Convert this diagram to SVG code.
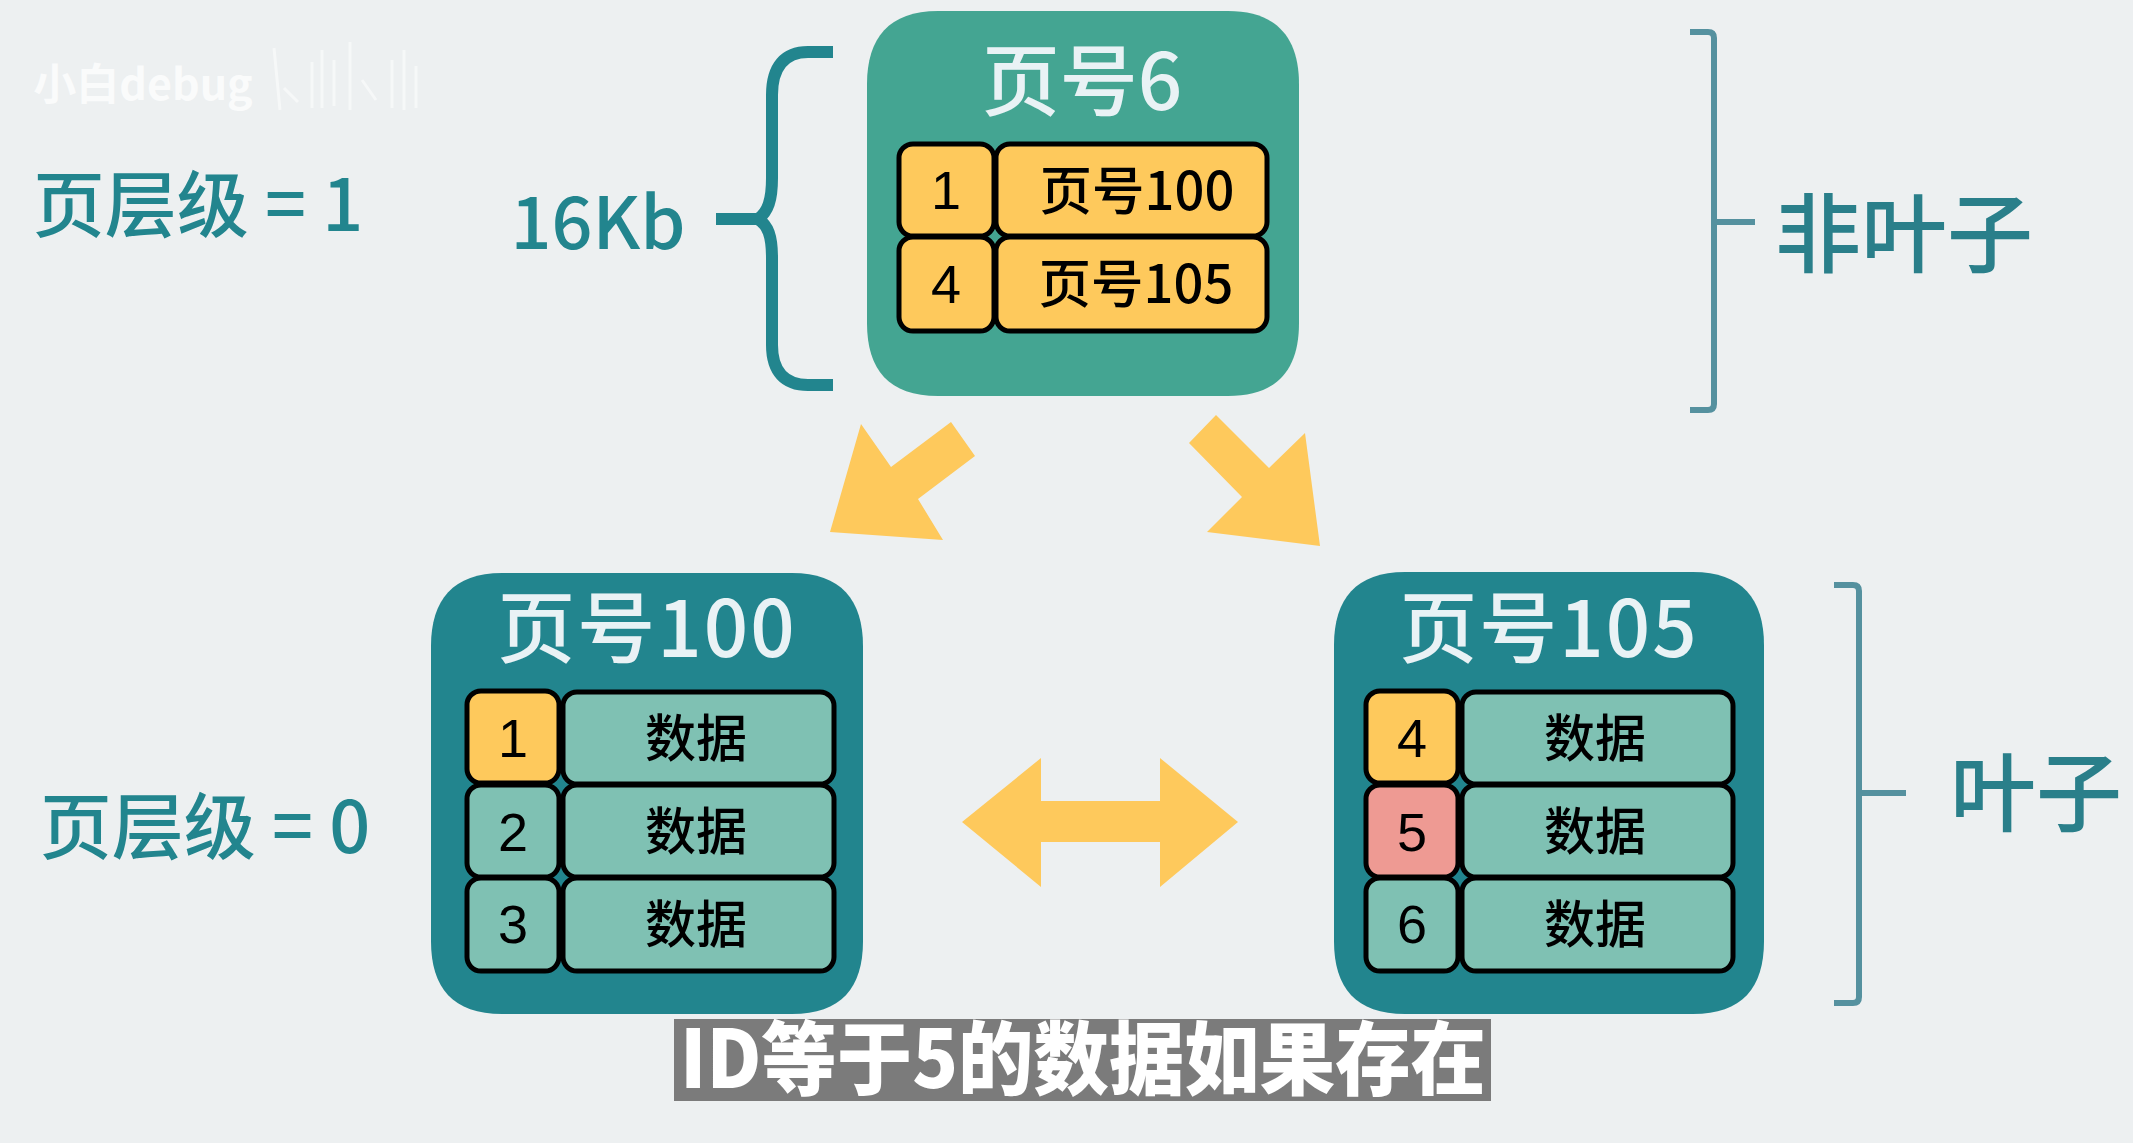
<svg xmlns="http://www.w3.org/2000/svg" width="2133" height="1143" viewBox="0 0 2133 1143">
<defs><style>
text{font-family:"Noto Sans CJK SC","Noto Sans",sans-serif;text-anchor:middle}
.title{font-size:78px;font-weight:500;fill:#e9f2f5}
.side{font-size:72px;font-weight:500;fill:#22858e}
.cell{stroke:#000;stroke-width:5}
.y{fill:#fec95c}.g{fill:#7fc1b3}.r{fill:#ee9a93}
.num{font-family:"Liberation Sans",Arial,sans-serif;font-size:54px;fill:#000}
.lab{font-size:52.5px;font-weight:500;fill:#000}
.data{font-size:51px;font-weight:500;fill:#000}
.arrow{fill:#fec95c}
.brace{fill:none;stroke:#22858e;stroke-width:12}
.bracket{fill:none;stroke:#55919f;stroke-width:6}
.label2{font-weight:500;fill:#2a7f8a}
</style></defs>
<rect width="2133" height="1143" fill="#edf0f1"/>
<g id="watermark">
<text x="143" y="100" font-size="43" font-weight="700" fill="#fff" fill-opacity="0.75">小白debug</text>
<path d="M274 48l6 62M284 88l14 14M312 62v46M322 50v58M334 60v46M350 42v68M362 80l14 20M392 60v48M404 50v60M416 66v42" fill="none" stroke="#fff" stroke-width="3" stroke-opacity="0.5"/>
</g>
<g id="level-labels">
<text class="side" x="198" y="231">页层级 = 1</text>
<text class="side" x="205" y="853">页层级 = 0</text>
<text class="side" x="598" y="249">16Kb</text>
</g>
<g id="connectors">
<path class="brace" d="M833 52H808C785 52 772 66 772 95V178C772 200 768 212 758 219H716M758 219C768 225 772 236 772 258V345C772 372 785 385 808 385H833"/>
<path class="bracket" d="M1690 32H1708Q1714 32 1714 38V404Q1714 410 1708 410H1690M1714 222H1755"/>
<path class="bracket" d="M1834 585H1853Q1859 585 1859 591V997Q1859 1003 1853 1003H1834M1859 793H1906"/>
<polygon class="arrow" points="830,532 861,424 891,467 951,422 975,456 918,499 943,540"/>
<polygon class="arrow" points="1320,546 1305,433 1269,468 1216,415 1189,443 1242,497 1207,532"/>
<polygon class="arrow" points="962,822 1041,758 1041,801 1160,801 1160,758 1238,822 1160,887 1160,842 1041,842 1041,887"/>
</g>
<g id="page-6">
<path d="M938 11H1228C1277 11 1299 38 1299 84V323C1299 370 1277 396 1228 396H938C889 396 867 370 867 323V84C867 38 889 11 938 11Z" fill="#44a592"/>
<text class="title" x="1082" y="110">页号6</text>
<rect class="cell y" x="899" y="144" width="95" height="92" rx="14"/>
<rect class="cell y" x="996" y="144" width="271" height="92" rx="14"/>
<rect class="cell y" x="899" y="237" width="95" height="94" rx="14"/>
<rect class="cell y" x="996" y="237" width="271" height="94" rx="14"/>
<text class="num" x="946" y="209">1</text>
<text class="num" x="946" y="303">4</text>
<text class="lab" x="1137" y="210">页号100</text>
<text class="lab" x="1136" y="303">页号105</text>
</g>
<g id="page-100">
<path d="M502 573H792C841 573 863 600 863 646V941C863 988 841 1014 792 1014H502C453 1014 431 988 431 941V646C431 600 453 573 502 573Z" fill="#22858e"/>
<text class="title" x="647" y="657" letter-spacing="2">页号100</text>
<rect class="cell y" x="467" y="691" width="92" height="92" rx="14"/>
<rect class="cell g" x="563" y="692" width="271" height="92" rx="14"/>
<rect class="cell g" x="467" y="785" width="92" height="92" rx="14"/>
<rect class="cell g" x="563" y="785" width="271" height="92" rx="14"/>
<rect class="cell g" x="467" y="878" width="92" height="93" rx="14"/>
<rect class="cell g" x="563" y="878" width="271" height="93" rx="14"/>
<text class="num" x="513" y="757">1</text>
<text class="num" x="513" y="851">2</text>
<text class="num" x="513" y="943">3</text>
<text class="data" x="696" y="757">数据</text>
<text class="data" x="696" y="850">数据</text>
<text class="data" x="696" y="943">数据</text>
</g>
<g id="page-105">
<path d="M1405 572H1693C1742 572 1764 599 1764 645V941C1764 988 1742 1014 1693 1014H1405C1356 1014 1334 988 1334 941V645C1334 599 1356 572 1405 572Z" fill="#22858e"/>
<text class="title" x="1549" y="657" letter-spacing="2">页号105</text>
<rect class="cell y" x="1366" y="691" width="92" height="92" rx="14"/>
<rect class="cell g" x="1462" y="692" width="271" height="92" rx="14"/>
<rect class="cell r" x="1366" y="785" width="92" height="92" rx="14"/>
<rect class="cell g" x="1462" y="785" width="271" height="92" rx="14"/>
<rect class="cell g" x="1366" y="878" width="92" height="93" rx="14"/>
<rect class="cell g" x="1462" y="878" width="271" height="93" rx="14"/>
<text class="num" x="1412" y="757">4</text>
<text class="num" x="1412" y="851">5</text>
<text class="num" x="1412" y="943">6</text>
<text class="data" x="1595" y="757">数据</text>
<text class="data" x="1595" y="850">数据</text>
<text class="data" x="1595" y="943">数据</text>
</g>
<g id="side-labels">
<text class="label2" x="1904" y="266" font-size="86">非叶子</text>
<text class="label2" x="2036" y="825" font-size="86">叶子</text>
</g>
<g id="subtitle">
<rect x="674" y="1019" width="817" height="82" fill="#7b7b7b"/>
<text x="1083" y="1088" font-size="80" font-weight="900" fill="#fff" textLength="806" lengthAdjust="spacingAndGlyphs">ID等于5的数据如果存在</text>
</g>
</svg>
